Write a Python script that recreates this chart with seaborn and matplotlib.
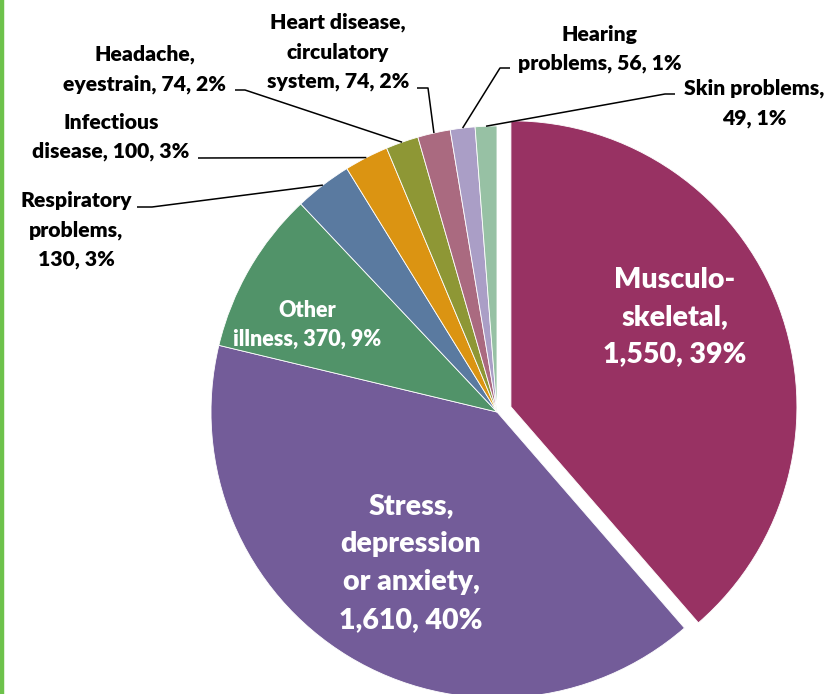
import numpy as np
import matplotlib
matplotlib.use("Agg")
import matplotlib.pyplot as plt
import seaborn as sns

# ---------------- data ----------------
categories = ["Musculo-\nskeletal", "Stress,\ndepression\nor anxiety", "Other\nillness",
              "Respiratory\nproblems", "Infectious\ndisease", "Headache,\neyestrain",
              "Heart disease,\ncirculatory\nsystem", "Hearing\nproblems", "Skin problems"]
values = [1550, 1610, 370, 130, 100, 74, 74, 56, 49]
percents = [39, 40, 9, 3, 3, 2, 2, 1, 1]
colors = ["#983263", "#735C99", "#519369", "#5A7AA0", "#DB9412",
          "#8E9735", "#AA6A80", "#AA9EC6", "#97C1A4"]

# ---------------- layout ----------------
seps = [",\n", ",\n", ", ", ",\n", ", ", ", ", ", ", ", ", ",\n"]
W, H = 828, 694
sns.set_theme(style="white")
plt.rcParams["font.family"] = ["Lato", "DejaVu Sans"]
WEIGHT = "heavy"

fig = plt.figure(figsize=(W / 100, H / 100), dpi=100)
ax = fig.add_axes([0, 0, 1, 1])

cx, cy, R = 497, H - 412, 286
explode = [0.052 * R] + [0] * (len(values) - 1)
wedges, _ = ax.pie(values, colors=colors, startangle=90, counterclock=False,
                   center=(cx, cy), radius=R, explode=explode,
                   wedgeprops=dict(linewidth=0.6, edgecolor="white"),
                   frame=True)
ax.set_xlim(0, W)
ax.set_ylim(0, H)
ax.axis("off")

labels = [c + s + f"{v:,}, {p}%" for c, s, v, p in zip(categories, seps, values, percents)]

def Y(y):
    return H - y

# inside labels (index, x, y, size, linespacing)
inside = [(0, 675, 317, 20.5, 1.53), (1, 411, 563, 20.5, 1.56), (2, 307, 325, 15.5, 1.5)]
for i, x, y, fs, ls in inside:
    ax.text(x, Y(y), labels[i], ha="center", va="center", color="white",
            fontsize=fs, fontweight=WEIGHT, linespacing=ls)

# outside labels: index, text centre, elbow path (top-left pixel coords)
outside = [
    (3, (76, 230), [(152, 207), (137, 207)]),
    (4, (111, 137), [(198, 158)]),
    (5, (145, 69), [(245, 90), (235, 90)]),
    (6, (338, 52), [(428, 88), (417, 88)]),
    (7, (600, 49), [(500, 68), (510, 68)]),
    (8, (754, 103), [(665, 94), (675, 94)]),
]
for i, (tx, ty), path in outside:
    w = wedges[i]
    mid = np.deg2rad((w.theta1 + w.theta2) / 2)
    ax0 = w.center[0] + w.r * np.cos(mid)
    ay0 = w.center[1] + w.r * np.sin(mid)
    xs = [ax0] + [p[0] for p in path]
    ys = [ay0] + [Y(p[1]) for p in path]
    ax.plot(xs, ys, color="black", lw=1.1, solid_capstyle="butt")
    ax.text(tx, Y(ty), labels[i], ha="center", va="center", color="black",
            fontsize=15.2, fontweight=WEIGHT, linespacing=1.64)

# green frame edge at left
ax.plot([2, 2], [0, H], color="#6DC24B", lw=3.2, solid_capstyle="butt")

fig.savefig("out.png", dpi=100, facecolor="white")
